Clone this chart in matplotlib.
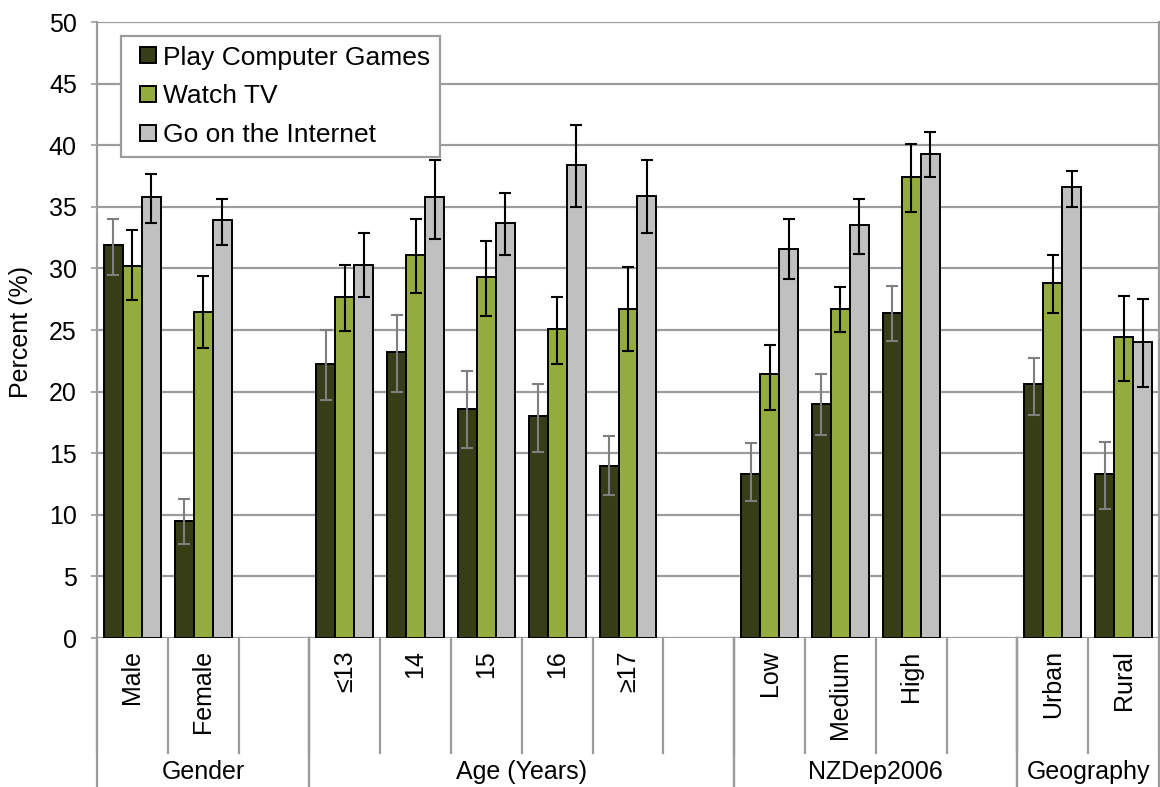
import numpy as np
import matplotlib
matplotlib.use("Agg")
import matplotlib.pyplot as plt
from matplotlib.patches import Rectangle, Patch
from matplotlib.legend_handler import HandlerPatch

plt.rcParams['font.family'] = ['Liberation Sans', 'DejaVu Sans']

# ---------------- data ----------------
group_names = ["Gender", "Age (Years)", "NZDep2006", "Geography"]
group_cats = [["Male", "Female"],
              ["≤13", "14", "15", "16", "≥17"],
              ["Low", "Medium", "High"],
              ["Urban", "Rural"]]
series_names = ["Play Computer Games", "Watch TV", "Go on the Internet"]

games    = [31.9, 9.5, 22.2, 23.2, 18.6, 18.0, 14.0, 13.3, 19.0, 26.4, 20.6, 13.3]
games_lo = [29.5, 7.6, 19.3, 20.0, 15.4, 15.1, 11.6, 11.1, 16.5, 24.1, 18.1, 10.5]
games_hi = [34.0, 11.3, 25.0, 26.2, 21.7, 20.6, 16.4, 15.8, 21.4, 28.6, 22.7, 15.9]

tv       = [30.2, 26.5, 27.7, 31.1, 29.3, 25.1, 26.7, 21.4, 26.7, 37.4, 28.8, 24.4]
tv_lo    = [27.4, 23.5, 24.9, 28.0, 26.1, 22.2, 23.3, 18.5, 24.8, 34.6, 26.4, 20.9]
tv_hi    = [33.1, 29.4, 30.3, 34.0, 32.2, 27.7, 30.1, 23.8, 28.5, 40.1, 31.1, 27.8]

web      = [35.8, 33.9, 30.3, 35.8, 33.7, 38.4, 35.9, 31.6, 33.5, 39.3, 36.6, 24.0]
web_lo   = [33.7, 31.9, 27.7, 32.4, 31.1, 35.0, 32.9, 29.1, 31.2, 37.4, 35.0, 20.4]
web_hi   = [37.7, 35.6, 32.9, 38.8, 36.1, 41.6, 38.8, 34.0, 35.6, 41.1, 37.9, 27.5]

yticks = [0, 5, 10, 15, 20, 25, 30, 35, 40, 45, 50]

# ---------------- layout of category slots ----------------
positions = []
labels = []
group_spans = []
slot = 0
for gi, cats in enumerate(group_cats):
    start = slot
    for c in cats:
        positions.append(slot)
        labels.append(c)
        slot += 1
    if gi < len(group_cats) - 1:
        slot += 1  # blank slot after group
    group_spans.append((start - 0.5, slot - 0.5))
nslots = slot
positions = np.array(positions, dtype=float)

colors = ["#363D17", "#94AC3D", "#C0C0C0"]
err_colors = ["#7F7F7F", "#000000", "#000000"]
grid_col = "#9C9C9C"

fig = plt.figure(figsize=(11.6, 7.87), dpi=100)
ax = fig.add_axes([97 / 1160, 1 - 638 / 787, 1062 / 1160, 616 / 787])

bw = 0.268
offsets = [-bw, 0, bw]
vals = [games, tv, web]
los = [games_lo, tv_lo, web_lo]
his = [games_hi, tv_hi, web_hi]
for i in range(3):
    v = np.array(vals[i])
    lo = np.array(los[i])
    hi = np.array(his[i])
    x = positions + offsets[i]
    ax.bar(x, v, width=bw, color=colors[i], edgecolor="black", linewidth=1.4,
           zorder=3, label=series_names[i])
    ax.errorbar(x, v, yerr=[v - lo, hi - v], fmt="none", ecolor=err_colors[i],
                elinewidth=1.5, capsize=4, capthick=1.5, zorder=4)

ax.set_xlim(-0.5, nslots - 0.5)
ax.set_ylim(0, 50)
ax.set_yticks(yticks)
ax.set_yticklabels([str(t) for t in yticks], fontsize=18)
ax.tick_params(axis="y", length=4.5, width=1.2, color=grid_col, pad=10)
ax.set_xticks([])
ax.yaxis.grid(True, color=grid_col, linewidth=1.6, zorder=0)
ax.set_axisbelow(True)
for s in ["top", "bottom"]:
    ax.spines[s].set_visible(False)
for s in ["left", "right"]:
    ax.spines[s].set_color(grid_col)
    ax.spines[s].set_linewidth(1.6)

trans = ax.get_xaxis_transform()
# category separator lines
for b in range(nslots + 1):
    xb = b - 0.5
    ax.plot([xb, xb], [0, -0.187], transform=trans, color=grid_col,
            linewidth=1.6, clip_on=False, zorder=1)
# group separator lines
for (a, b) in group_spans:
    for xb in (a, b):
        ax.plot([xb, xb], [0, -0.26], transform=trans, color=grid_col,
                linewidth=1.6, clip_on=False, zorder=1)

for p, lab in zip(positions, labels):
    ax.text(p, -0.02, lab, transform=trans, rotation=90, ha="center",
            va="top", fontsize=18)
for (a, b), g in zip(group_spans, group_names):
    ax.text((a + b) / 2, -0.2175, g, transform=trans, ha="center",
            va="center", fontsize=18)

fig.text(21 / 1160, 1 - 332 / 787, "Percent (%)", rotation=90, ha="center",
         va="center", fontsize=18)


def square_patch(legend, orig_handle, xdescent, ydescent, width, height, fontsize):
    sq = height
    return Rectangle((-xdescent + width - sq, -ydescent), sq, sq)


handles = [Patch(facecolor=colors[i], edgecolor="black", linewidth=1.4)
           for i in range(3)]
leg = fig.legend(handles, series_names, loc="upper left",
                 bbox_to_anchor=(121 / 1160, 1 - 36 / 787),
                 bbox_transform=fig.transFigure, borderaxespad=0,
                 fontsize=19, frameon=True, fancybox=False, framealpha=1,
                 edgecolor=grid_col, handlelength=0.95, handleheight=0.55,
                 handletextpad=0.3, labelspacing=0.56, borderpad=0.36,
                 handler_map={Patch: HandlerPatch(patch_func=square_patch)})
leg.get_frame().set_linewidth(1.6)

fig.savefig("out.png", dpi=100)
